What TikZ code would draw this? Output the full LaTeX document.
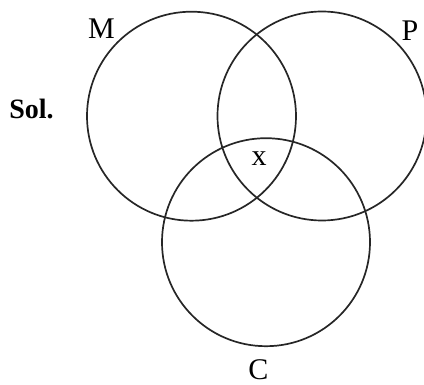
\documentclass[tikz,border=0pt]{standalone}
\usepackage{fontspec}
\setmainfont{Liberation Serif}
\begin{document}
\begin{tikzpicture}[x=1pt,y=-1pt,
  venn/.style={draw=black!85,line width=1.7pt},
  lbl/.style={font=\fontsize{30}{32}\selectfont,inner sep=0pt,anchor=base}]
\useasboundingbox (0,0) rectangle (424,385);
\draw[venn] (191.5,116.2) circle (104.5);
\draw[venn] (322,116) circle (104.5);
\draw[venn] (266,242.2) circle (104);
\node[lbl] (M) at (101.5,39) {M};
\node[lbl] (P) at (410,41) {P};
\node[lbl,font=\bfseries\fontsize{28}{30}\selectfont] (sol) at (31.5,119) {Sol.};
\node[lbl] (x) at (259,165.5) {x};
\node[lbl] (C) at (258.5,379.5) {C};
\end{tikzpicture}
\end{document}
